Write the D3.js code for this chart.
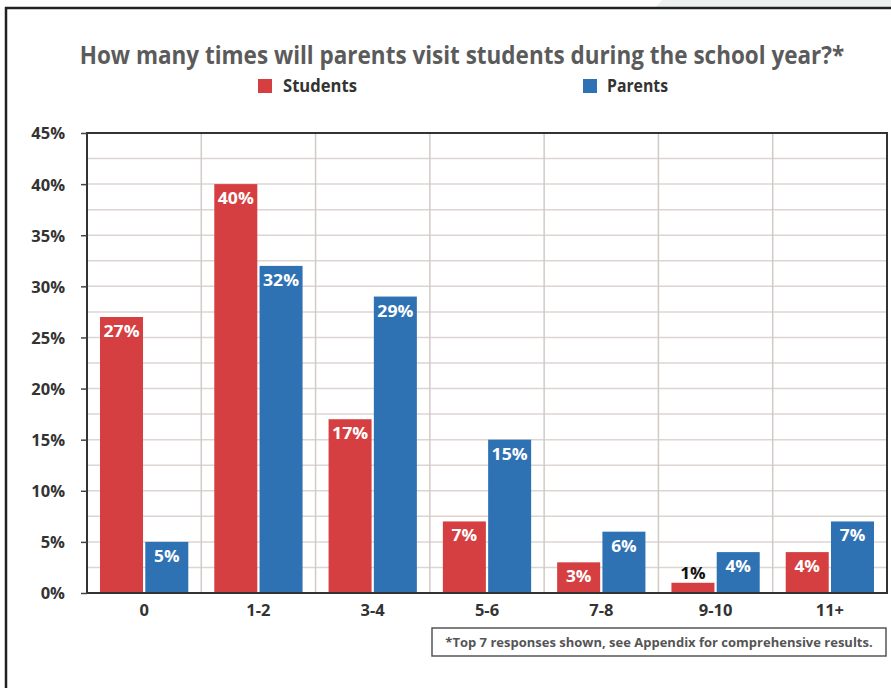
<!DOCTYPE html>
<html>
<head>
<meta charset="utf-8">
<script src="https://cdn.jsdelivr.net/npm/d3@7"></script>
<style>
  html, body { margin: 0; padding: 0; background: #fff; }
  svg { display: block; }
  text { font-family: "Open Sans", "Noto Sans", sans-serif; font-weight: 700; }
</style>
</head>
<body>
<svg id="chart" width="891" height="688"></svg>
<script>
// Survey answers: visits per school year
const categories = ["0", "1-2", "3-4", "5-6", "7-8", "9-10", "11+"];
const seriesNames = ["Students", "Parents"];
const studentValues = [27, 40, 17, 7, 3, 1, 4];
const parentValues = [5, 32, 29, 15, 6, 4, 7];
const yTicks = [0, 5, 10, 15, 20, 25, 30, 35, 40, 45];
const seriesColors = ["#d63f41", "#2f72b3"];
const titleText = "How many times will parents visit students during the school year?*";
const footnoteText = "*Top 7 responses shown, see Appendix for comprehensive results.";

const svg = d3.select("#chart");
const W = 891, H = 688;
const plot = { left: 87, right: 887, top: 133, bottom: 593 };

// squeeze a text horizontally so it spans the given width, keeping its height
function fitWidth(sel, cx, baseline, width) {
  const natural = sel.node().getComputedTextLength();
  const k = Math.min(1, width / natural);
  sel.attr("x", 0).attr("y", 0)
    .attr("transform", `translate(${cx},${baseline}) scale(${k},1)`);
}

// page frame: light corner tab, then dark top and left rules
svg.append("polygon")
  .attr("points", "662,0 891,0 891,7 656,7")
  .attr("fill", "#eef0f0");
svg.append("line").attr("x1", 5).attr("x2", W).attr("y1", 8).attr("y2", 8)
  .attr("stroke", "#222").attr("stroke-width", 2.5);
svg.append("line").attr("x1", 6).attr("x2", 6).attr("y1", 7).attr("y2", H)
  .attr("stroke", "#222").attr("stroke-width", 2.5);

// title
const title = svg.append("text")
  .attr("text-anchor", "middle")
  .attr("font-size", 25)
  .attr("fill", "#5b5b5b")
  .text(titleText);
fitWidth(title, 462, 64, 765);

// legend
const legendPos = [{ sx: 258, tx: 283, tw: 74 }, { sx: 583, tx: 607, tw: 61 }];
seriesNames.forEach((name, i) => {
  const p = legendPos[i];
  svg.append("rect").attr("x", p.sx).attr("y", 79).attr("width", 14).attr("height", 14)
    .attr("fill", seriesColors[i]);
  const t = svg.append("text")
    .attr("font-size", 17.5).attr("fill", "#333")
    .text(name);
  const natural = t.node().getComputedTextLength();
  t.attr("transform", `translate(${p.tx},92) scale(${Math.min(1, p.tw / natural)},1)`);
});

// scales
const x = d3.scaleBand().domain(categories).range([plot.left, plot.right]).padding(0);
const xs = d3.scaleBand().domain(seriesNames)
  .range([13, x.bandwidth() - 13]).paddingInner(0.05);
const y = d3.scaleLinear().domain([0, 45]).range([plot.bottom, plot.top]);

// horizontal grid every 2.5%
const gridVals = d3.range(2.5, 45, 2.5);
svg.append("g").selectAll("line").data(gridVals).join("line")
  .attr("x1", plot.left).attr("x2", plot.right)
  .attr("y1", d => y(d)).attr("y2", d => y(d))
  .attr("stroke", "#ddd5d2").attr("stroke-width", 1.5);

// vertical separators between categories
svg.append("g").selectAll("line").data(categories.slice(1)).join("line")
  .attr("x1", d => x(d)).attr("x2", d => x(d))
  .attr("y1", plot.top).attr("y2", plot.bottom)
  .attr("stroke", "#d2cac7").attr("stroke-width", 1.5);

// bars
const rows = categories.map((c, i) => ({ cat: c, vals: [studentValues[i], parentValues[i]] }));
const groups = svg.append("g").selectAll("g").data(rows).join("g")
  .attr("transform", d => `translate(${x(d.cat)},0)`);

groups.selectAll("rect")
  .data(d => d.vals.map((v, i) => ({ s: seriesNames[i], v, i })))
  .join("rect")
  .attr("x", d => xs(d.s))
  .attr("width", xs.bandwidth())
  .attr("y", d => y(d.v))
  .attr("height", d => y(0) - y(d.v))
  .attr("fill", d => seriesColors[d.i]);

// value labels: inside the bar top, or above it when the bar is too short
const short = d => (y(0) - y(d.v)) < 22;
groups.selectAll("text")
  .data(d => d.vals.map((v, i) => ({ s: seriesNames[i], v, i })))
  .join("text")
  .attr("x", d => xs(d.s) + xs.bandwidth() / 2)
  .attr("y", d => short(d) ? y(d.v) - 4 : y(d.v) + 20)
  .attr("text-anchor", "middle")
  .attr("font-size", 16)
  .attr("fill", d => short(d) ? "#111" : "#fff")
  .attr("textLength", d => String(d.v).length * 10.5 + 15)
  .attr("lengthAdjust", "spacingAndGlyphs")
  .text(d => d.v + "%");

// plot frame
svg.append("rect")
  .attr("x", plot.left).attr("y", plot.top)
  .attr("width", plot.right - plot.left).attr("height", plot.bottom - plot.top)
  .attr("fill", "none").attr("stroke", "#333").attr("stroke-width", 2);

// y axis
const yAxis = svg.append("g")
  .attr("transform", `translate(${plot.left},0)`)
  .call(d3.axisLeft(y).tickValues(yTicks).tickSize(6).tickPadding(16)
    .tickFormat(d => d + "%"));
yAxis.select(".domain").remove();
yAxis.selectAll(".tick line").attr("stroke", "#444").attr("stroke-width", 1.5);
yAxis.selectAll(".tick text")
  .attr("font-size", 16.5).attr("fill", "#333")
  .attr("font-family", "'Open Sans', sans-serif").attr("font-weight", 700)
  .attr("dy", "0.36em");

// x axis
const xAxis = svg.append("g")
  .attr("transform", `translate(0,${plot.bottom})`)
  .call(d3.axisBottom(x).tickSize(0).tickPadding(11));
xAxis.select(".domain").remove();
xAxis.selectAll(".tick text")
  .attr("font-size", 16.5).attr("fill", "#333")
  .attr("font-family", "'Open Sans', sans-serif").attr("font-weight", 700);

// footnote box
svg.append("rect")
  .attr("x", 432).attr("y", 628).attr("width", 454).attr("height", 28)
  .attr("fill", "#fff").attr("stroke", "#555").attr("stroke-width", 1.5);
const foot = svg.append("text")
  .attr("text-anchor", "middle")
  .attr("font-size", 13).attr("fill", "#555")
  .text(footnoteText);
fitWidth(foot, 659, 647, 430);
</script>
</body>
</html>
